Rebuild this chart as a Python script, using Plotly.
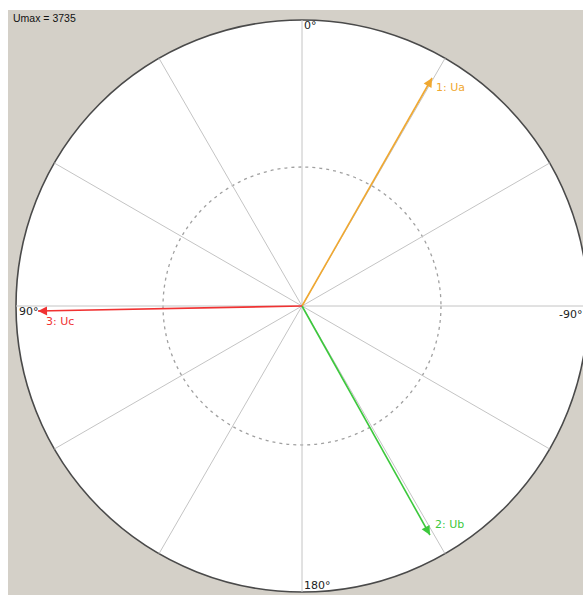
import numpy as np
import plotly.graph_objects as go

# ---- data ----
U_MAX = 3735
phasor_names = ["1: Ua", "2: Ub", "3: Uc"]
phasor_mag = [3428, 3426, 3448]
phasor_ang = [-29.7, -150.8, 91.1]   # degrees, 0 at top, counter-clockwise positive
phasor_colors = ["#f0a830", "#3cc83c", "#f03232"]
grid_angles = list(range(0, 360, 30))
ring_radius = 1815
angle_tick_vals = [0, 90, -90, 180]
angle_tick_text = ["0°", "90°", "-90°", "180°"]


def to_xy(r, a):
    t = np.deg2rad(np.asarray(a, dtype=float))
    return -np.asarray(r) * np.sin(t), np.asarray(r) * np.cos(t)


# ---- geometry of the canvas ----
W, H = 583, 595
ML, MT = 8, 10
PW, PH = W - ML, H - MT
R_PX = 286.0
CX, CY = 302 - ML, 306 - MT          # centre in plot-area pixels
s = U_MAX / R_PX                      # data units per pixel

fig = go.Figure()

# spokes
sx, sy = [], []
for a in grid_angles:
    x, y = to_xy(U_MAX, a)
    sx += [0, float(x), None]
    sy += [0, float(y), None]
fig.add_trace(go.Scatter(x=sx, y=sy, mode="lines",
                         line=dict(color="#c4c4c4", width=1),
                         hoverinfo="skip", showlegend=False))

# phasors
px, py = to_xy(phasor_mag, phasor_ang)
label_shift = [(2, -10), (3, 11), (6, -10)]
annotations = []
for i, name in enumerate(phasor_names):
    fig.add_trace(go.Scatter(x=[0, px[i]], y=[0, py[i]], mode="lines",
                             line=dict(color=phasor_colors[i], width=1.6),
                             hoverinfo="skip", showlegend=False))
    annotations.append(dict(x=px[i], y=py[i], ax=px[i] * 0.96, ay=py[i] * 0.96,
                            xref="x", yref="y", axref="x", ayref="y",
                            showarrow=True, arrowhead=2, arrowsize=1.2,
                            arrowwidth=1.5, arrowcolor=phasor_colors[i],
                            standoff=0, text=""))
    annotations.append(dict(x=px[i], y=py[i], xref="x", yref="y",
                            text=name, showarrow=False,
                            xanchor="left", yanchor="middle",
                            xshift=label_shift[i][0], yshift=label_shift[i][1],
                            font=dict(family="DejaVu Sans", size=11,
                                      color=phasor_colors[i])))

# angle labels
tick_place = {0: ("left", "top", 0, 3), 90: ("left", "top", 1, 3),
              180: ("left", "bottom", 0, -2)}
for v, t in zip(angle_tick_vals, angle_tick_text):
    x, y = to_xy(U_MAX, v)
    if v in tick_place:
        xa, ya, xs, ys = tick_place[v]
        annotations.append(dict(x=float(x), y=float(y), xref="x", yref="y",
                                text=t, showarrow=False, xanchor=xa, yanchor=ya,
                                xshift=xs, yshift=ys,
                                font=dict(family="DejaVu Sans", size=11, color="#222222")))
    else:
        # label at the clipped right edge of the dial
        annotations.append(dict(x=1, y=float(y), xref="paper", yref="y",
                                text=t, showarrow=False, xanchor="right", yanchor="top",
                                xshift=1, yshift=0,
                                font=dict(family="DejaVu Sans", size=11, color="#222222")))

annotations.append(dict(x=0, y=1, xref="paper", yref="paper", text=f"Umax = {U_MAX}",
                        showarrow=False, xanchor="left", yanchor="top", xshift=3,
                        font=dict(family="Liberation Sans", size=10.5, color="#111111")))

shapes = [
    dict(type="circle", xref="x", yref="y", x0=-U_MAX, y0=-U_MAX, x1=U_MAX, y1=U_MAX,
         fillcolor="white", line=dict(color="#4a4a4a", width=1.6), layer="below"),
    dict(type="circle", xref="x", yref="y", x0=-ring_radius, y0=-ring_radius,
         x1=ring_radius, y1=ring_radius,
         line=dict(color="#a0a0a0", width=1.3, dash="3px,4px"), layer="below"),
]

fig.update_layout(
    width=W, height=H,
    margin=dict(l=ML, t=MT, r=0, b=0, pad=0),
    paper_bgcolor="white", plot_bgcolor="#d4d0c8",
    xaxis=dict(range=[-CX * s, (PW - CX) * s], visible=False, fixedrange=True),
    yaxis=dict(range=[-(PH - CY) * s, CY * s], visible=False, fixedrange=True),
    shapes=shapes, annotations=annotations,
    showlegend=False,
)

fig.write_html("out.html", config={"displayModeBar": False},
               post_script="document.body.style.margin='0';document.body.style.overflow='hidden';")
